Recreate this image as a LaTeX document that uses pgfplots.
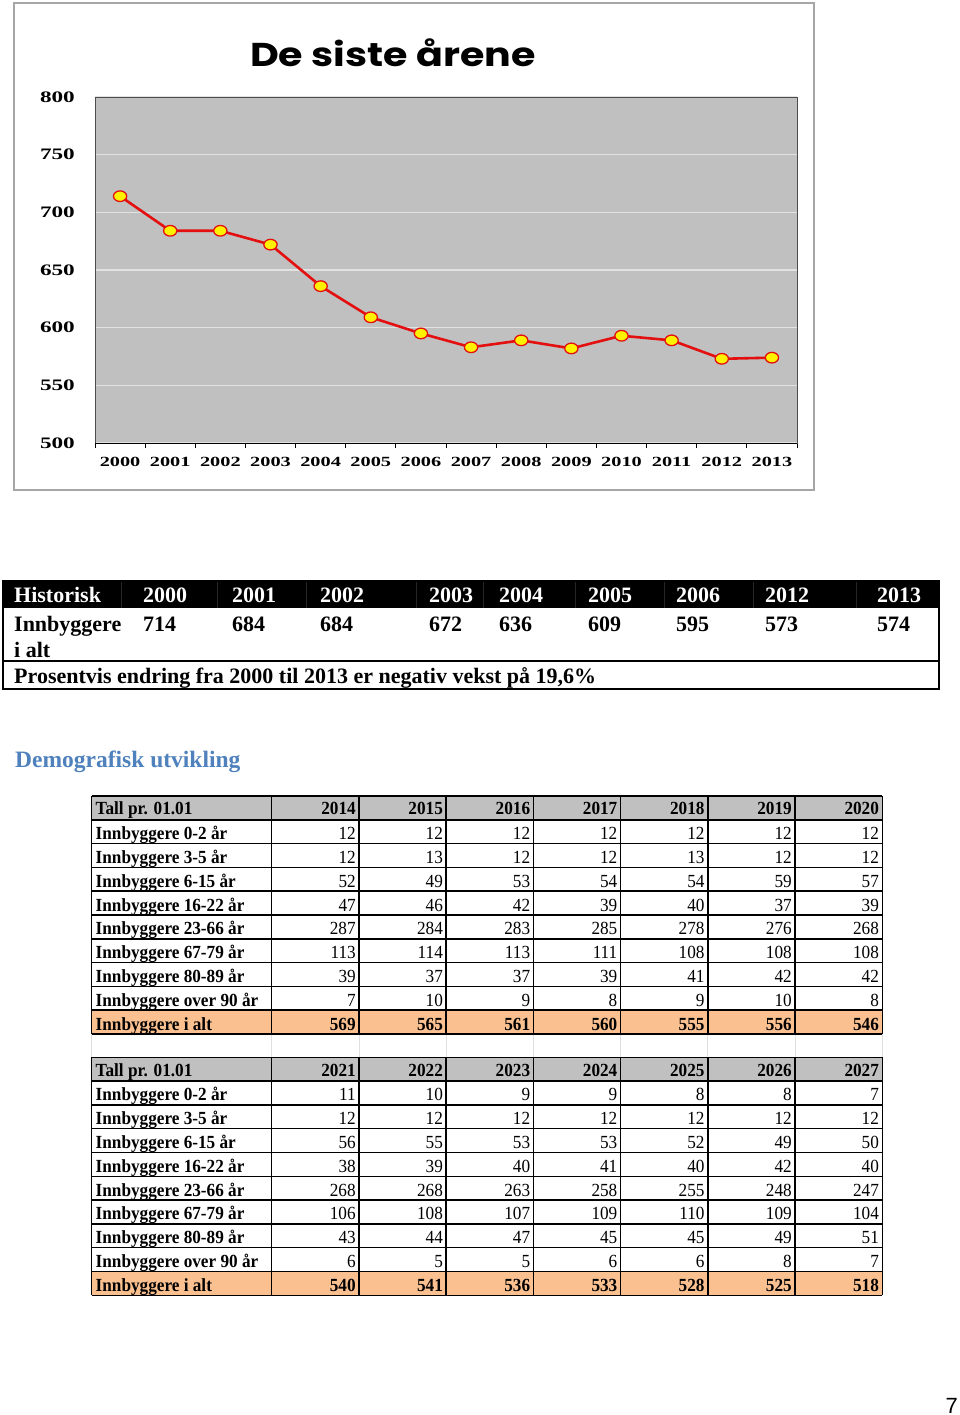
\documentclass[border=0pt]{standalone}
\usepackage{fontspec}
\setmainfont{Liberation Serif}
\usepackage{pgfplots}
\pgfplotsset{compat=1.18}
\newfontfamily\wideserif[FakeStretch=1.45]{Liberation Serif}
\newfontfamily\narrowserif[FakeStretch=0.93]{Liberation Serif}
\newfontfamily\titlefam[FakeStretch=1.2]{Poppins}
\newfontfamily\arialfam{Liberation Sans}
\definecolor{plotgray}{RGB}{192,192,192}
\definecolor{gridc}{RGB}{226,226,226}
\definecolor{linered}{RGB}{228,16,16}
\definecolor{hdrgray}{RGB}{192,192,192}
\definecolor{peach}{RGB}{250,192,144}
\definecolor{headblue}{RGB}{79,129,189}
\newcommand\tabb{\narrowserif\bfseries\fontsize{18.5}{18.5}\selectfont}
\newcommand\tabr{\narrowserif\fontsize{18.5}{18.5}\selectfont}
\newcommand{\demotable}[3]{%
  \pgfmathsetmacro{\T}{#1}%
  \pgfmathsetmacro{\R}{23.8}%
  \fill[hdrgray] (91.7,\T) rectangle (882.3,{\T+\R});
  \fill[peach] (91.7,{\T+9*\R}) rectangle (882.3,{\T+10*\R});
  \foreach \k in {0,...,10} \draw[line width=1.5pt] (91.7,{\T+\k*\R}) -- (882.3,{\T+\k*\R});
  \foreach \x in {91.7,271.7,359,446.2,533.4,620.6,707.9,795.1,882.3} \draw[line width=1.5pt] (\x,\T) -- (\x,{\T+10*\R});
  \node[anchor=base west,inner sep=0pt,font=\tabb] at (95.5,{\T+\R-5}) {Tall pr. 01.01};
  \foreach \y [count=\c] in {#2} \node[anchor=base east,inner sep=0pt,font=\tabb] at ({271.7+87.2*\c-3},{\T+\R-5}) {\y};
  \foreach \lab/\vals [count=\r] in {#3} {
    \ifnum\r=9 \def\numfont{\tabb}\else\def\numfont{\tabr}\fi
    \node[anchor=base west,inner sep=0pt,font=\tabb] at (95.5,{\T+(\r+1)*\R-4}) {\lab};
    \foreach \v [count=\c] in \vals
      \node[anchor=base east,inner sep=0pt,font=\numfont] at ({271.7+87.2*\c-3},{\T+(\r+1)*\R-4}) {\v};
  }
}
\begin{document}
\begin{tikzpicture}[x=1pt,y=-1pt]
\useasboundingbox (0,0) rectangle (960,1415);
\fill[white] (0,0) rectangle (960,1415);
% chart frame
\draw[gray!70, line width=1.5pt] (14,3) rectangle (814,490);
\node[font=\titlefam\bfseries\fontsize{33}{33}\selectfont] at (393,53) {De siste årene};
\begin{axis}[
  at={(95pt,-443pt)}, anchor=south west,
  scale only axis, width=702pt, height=346pt,
  xmin=-0.5, xmax=13.5, ymin=500, ymax=800,
  xtick={0,...,13},
  xticklabels={2000,2001,2002,2003,2004,2005,2006,2007,2008,2009,2010,2011,2012,2013},
  minor xtick={-0.5,0.5,...,13.5},
  ytick={500,550,...,800},
  xtick pos=bottom, ytick pos=left,
  xtick align=outside,
  major tick length=0pt, minor tick length=5pt,
  minor tick style={black, line width=0.8pt},
  ymajorgrids,
  major grid style={draw=gridc, line width=1.3pt},
  axis background/.style={fill=plotgray},
  axis line style={draw=gray!60!black, line width=0.8pt},
  /pgf/number format/assume math mode=true,
  xticklabel style={font=\wideserif\bfseries\fontsize{14}{14}\selectfont, inner sep=0pt, anchor=north, yshift=-14pt},
  yticklabel style={font=\wideserif\bfseries\fontsize{16}{16}\selectfont, inner sep=0pt, anchor=east, xshift=-20pt},
  clip=false,
  after end axis/.code={\draw[black, line width=1pt] (rel axis cs:0,0) -- (rel axis cs:1,0);}
]
\addplot[draw=linered, line width=2.6pt, mark=*, mark size=5.3pt,
  mark options={fill=yellow, draw=linered, line width=1.3pt, xscale=1.25, solid}]
  coordinates {(0,714) (1,684) (2,684) (3,672) (4,636) (5,609) (6,595) (7,583) (8,589) (9,582) (10,593) (11,589) (12,573) (13,574)};
\end{axis}
% historical table
\fill[black] (3,581) rectangle (939,608);
\foreach \x in {121,217,306,416,483,575,664,753,856} \draw[gray!30!black, line width=0.7pt] (\x,581) -- (\x,608);
\draw[black, line width=1.5pt] (3,581) rectangle (939,689);
\draw[black, line width=1.5pt] (3,661) -- (939,661);
\begin{scope}[every node/.style={anchor=base west, inner sep=0pt, font=\bfseries\fontsize{22}{22}\selectfont}]
\node[white] at (14,602) {Historisk};
\foreach \x/\y in {143/2000,232/2001,320/2002,429/2003,499/2004,588/2005,676/2006,765/2012,877/2013} \node[white] at (\x,602) {\y};
\node at (14,631) {Innbyggere};
\node at (14,657) {i alt};
\foreach \x/\y in {143/714,232/684,320/684,429/672,499/636,588/609,676/595,765/573,877/574} \node at (\x,631) {\y};
\node at (14,683) {Prosentvis endring fra 2000 til 2013 er negativ vekst på 19,6\%};
\end{scope}
\node[anchor=base west, inner sep=0pt, text=headblue, font=\bfseries\fontsize{23.5}{23.5}\selectfont] at (15,767) {Demografisk utvikling};
% gap grid lines between tables
\foreach \x in {91.7,271.7,359,446.2,533.4,620.6,707.9,795.1,882.3} \draw[gray!25, line width=1pt] (\x,1034) -- (\x,1057);
\demotable{796}{2014,2015,2016,2017,2018,2019,2020}{%
  {Innbyggere 0-2 år}/{12,12,12,12,12,12,12},
  {Innbyggere 3-5 år}/{12,13,12,12,13,12,12},
  {Innbyggere 6-15 år}/{52,49,53,54,54,59,57},
  {Innbyggere 16-22 år}/{47,46,42,39,40,37,39},
  {Innbyggere 23-66 år}/{287,284,283,285,278,276,268},
  {Innbyggere 67-79 år}/{113,114,113,111,108,108,108},
  {Innbyggere 80-89 år}/{39,37,37,39,41,42,42},
  {Innbyggere over 90 år}/{7,10,9,8,9,10,8},
  {Innbyggere i alt}/{569,565,561,560,555,556,546}}
\demotable{1057.3}{2021,2022,2023,2024,2025,2026,2027}{%
  {Innbyggere 0-2 år}/{11,10,9,9,8,8,7},
  {Innbyggere 3-5 år}/{12,12,12,12,12,12,12},
  {Innbyggere 6-15 år}/{56,55,53,53,52,49,50},
  {Innbyggere 16-22 år}/{38,39,40,41,40,42,40},
  {Innbyggere 23-66 år}/{268,268,263,258,255,248,247},
  {Innbyggere 67-79 år}/{106,108,107,109,110,109,104},
  {Innbyggere 80-89 år}/{43,44,47,45,45,49,51},
  {Innbyggere over 90 år}/{6,5,5,6,6,8,7},
  {Innbyggere i alt}/{540,541,536,533,528,525,518}}
\node[anchor=base east, inner sep=0pt, font=\arialfam\fontsize{22}{22}\selectfont] at (958,1413) {7};
\end{tikzpicture}
\end{document}
